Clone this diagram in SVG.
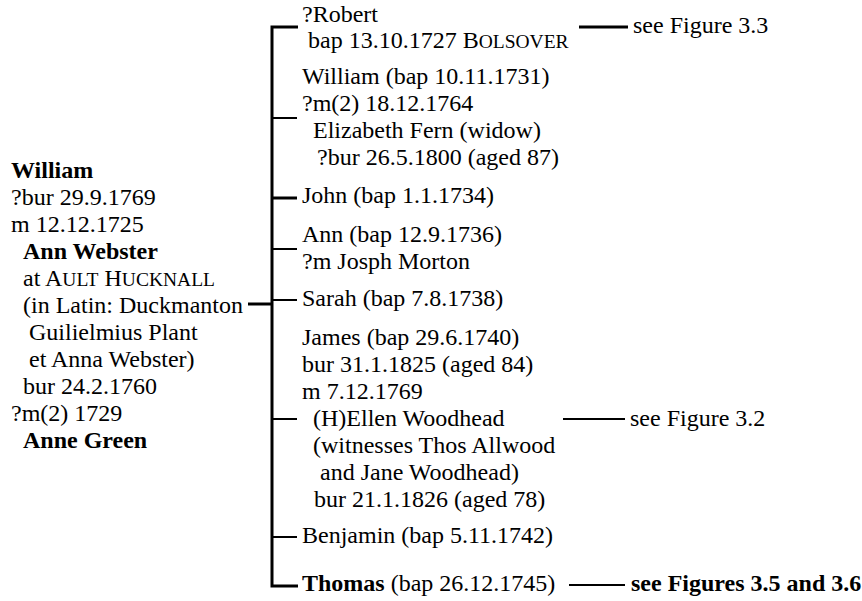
<svg xmlns="http://www.w3.org/2000/svg" width="862" height="601" viewBox="0 0 862 601">
<style>
text{font-family:"Liberation Serif","Times New Roman",serif;font-size:24px;fill:#000}
.b{font-weight:bold}
.sc{font-size:19.5px}
.thick{stroke:#000;stroke-width:3;fill:none}
.thin{stroke:#000;stroke-width:2;fill:none}
</style>
<rect width="862" height="601" fill="#fff"/>
<g id="connectors">
<path class="thick" d="M298,27 H272 V586 H298"/>
<line class="thick" x1="248" y1="304" x2="272" y2="304"/>
<line class="thin" x1="272" y1="118" x2="297" y2="118"/>
<line class="thick" x1="272" y1="198" x2="297" y2="198"/>
<line class="thin" x1="272" y1="249" x2="297" y2="249"/>
<line class="thin" x1="272" y1="300" x2="297" y2="300"/>
<line class="thin" x1="272" y1="419" x2="297" y2="419"/>
<line class="thin" x1="272" y1="537" x2="297" y2="537"/>
<line class="thick" x1="579" y1="27" x2="628" y2="27"/>
<line class="thin" x1="563" y1="419" x2="625" y2="419"/>
<line class="thin" x1="569" y1="585" x2="625" y2="585"/>
</g>
<g id="parent">
<text x="11" y="178" class="b">William</text>
<text x="11" y="205">?bur 29.9.1769</text>
<text x="11" y="232">m 12.12.1725</text>
<text x="23" y="259" class="b">Ann Webster</text>
<text x="23" y="286">at A<tspan class="sc">ULT</tspan> H<tspan class="sc">UCKNALL</tspan></text>
<text x="23" y="313">(in Latin: Duckmanton</text>
<text x="29" y="340">Guilielmius Plant</text>
<text x="29" y="367">et Anna Webster)</text>
<text x="23" y="394">bur 24.2.1760</text>
<text x="11" y="421">?m(2) 1729</text>
<text x="23" y="448" class="b">Anne Green</text>
</g>
<g id="robert">
<text x="302" y="22">?Robert</text>
<text x="308" y="48">bap 13.10.1727 B<tspan class="sc">OLSOVER</tspan></text>
</g>
<g id="william">
<text x="302" y="84">William (bap 10.11.1731)</text>
<text x="302" y="111">?m(2) 18.12.1764</text>
<text x="313" y="138">Elizabeth Fern (widow)</text>
<text x="317" y="165">?bur 26.5.1800 (aged 87)</text>
</g>
<g id="john">
<text x="302" y="203">John (bap 1.1.1734)</text>
</g>
<g id="ann">
<text x="302" y="242">Ann (bap 12.9.1736)</text>
<text x="302" y="269">?m Josph Morton</text>
</g>
<g id="sarah">
<text x="302" y="306">Sarah (bap 7.8.1738)</text>
</g>
<g id="james">
<text x="302" y="345">James (bap 29.6.1740)</text>
<text x="302" y="372">bur 31.1.1825 (aged 84)</text>
<text x="302" y="399">m 7.12.1769</text>
<text x="313" y="426">(H)Ellen Woodhead</text>
<text x="313" y="453">(witnesses Thos Allwood</text>
<text x="320" y="480">and Jane Woodhead)</text>
<text x="314" y="507">bur 21.1.1826 (aged 78)</text>
</g>
<g id="benjamin">
<text x="302" y="543">Benjamin (bap 5.11.1742)</text>
</g>
<g id="thomas">
<text x="302" y="591"><tspan class="b">Thomas</tspan> (bap 26.12.1745)</text>
</g>
<g id="ref-robert">
<text x="633" y="33">see Figure 3.3</text>
</g>
<g id="ref-james">
<text x="630" y="426">see Figure 3.2</text>
</g>
<g id="ref-thomas">
<text x="631" y="591" class="b">see Figures 3.5 and 3.6</text>
</g>
</svg>
